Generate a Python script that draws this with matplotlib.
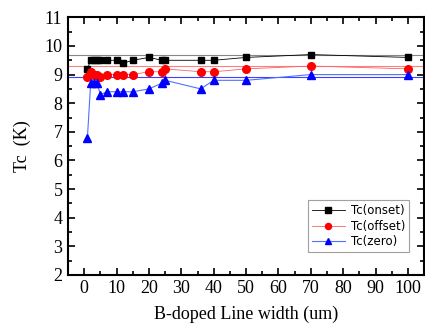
import matplotlib
matplotlib.use("Agg")
import matplotlib.pyplot as plt
from matplotlib.ticker import MultipleLocator

# line width (um)
width = [1, 2, 3, 4, 5, 7, 10, 12, 15, 20, 24, 25, 36, 40, 50, 70, 100]
tc_onset = [9.2, 9.5, 9.5, 9.5, 9.5, 9.5, 9.5, 9.4, 9.5, 9.6, 9.5, 9.5, 9.5, 9.5, 9.6, 9.7, 9.6]
tc_offset = [8.9, 9.1, 9.0, 9.0, 8.9, 9.0, 9.0, 9.0, 9.0, 9.1, 9.1, 9.2, 9.1, 9.1, 9.2, 9.3, 9.2]
tc_zero = [6.8, 8.7, 8.7, 8.7, 8.3, 8.4, 8.4, 8.4, 8.4, 8.5, 8.7, 8.8, 8.5, 8.8, 8.8, 9.0, 9.0]
# reference levels (horizontal lines)
ref_onset = 9.7
ref_offset = 9.3
ref_zero = 8.9

fig = plt.figure(figsize=(4.25, 3.34), dpi=100)
ax = fig.add_axes([0.16, 0.177, 0.838, 0.771])

ax.axhline(ref_onset, color='#888888', lw=0.8, zorder=1)
ax.axhline(ref_offset, color='#ff8080', lw=0.8, zorder=1)
ax.axhline(ref_zero, color='#4040ff', lw=0.8, zorder=1)

ax.plot(width, tc_onset, color='k', lw=0.6, marker='s', ms=5, label='Tc(onset)', zorder=3)
ax.plot(width, tc_offset, color='#ff6060', lw=0.6, marker='o', mfc='red', mec='red', ms=5.5,
        label='Tc(offset)', zorder=3)
ax.plot(width, tc_zero, color='#5070ff', lw=0.8, marker='^', mfc='blue', mec='blue', ms=6,
        label='Tc(zero)', zorder=3)

ax.set_xlim(-5, 105)
ax.set_ylim(2, 11)
ax.xaxis.set_major_locator(MultipleLocator(10))
ax.xaxis.set_minor_locator(MultipleLocator(5))
ax.yaxis.set_major_locator(MultipleLocator(1))
ax.yaxis.set_minor_locator(MultipleLocator(0.5))
ax.tick_params(which='both', direction='in', top=True, right=True, width=1.2)
ax.tick_params(which='major', length=5, labelsize=13, pad=4)
ax.tick_params(which='minor', length=3)
for s in ax.spines.values():
    s.set_linewidth(1.5)
for lab in ax.get_xticklabels() + ax.get_yticklabels():
    lab.set_family('Liberation Serif')

ax.set_xlabel('B-doped Line width (um)', family='Liberation Serif', fontsize=13, labelpad=6)
ax.set_ylabel('Tc  (K)', family='Liberation Serif', fontsize=13, labelpad=10)

leg = ax.legend(loc='lower right', bbox_to_anchor=(0.975, 0.065), fontsize=8.5, frameon=True,
                fancybox=False, edgecolor='#888888', handlelength=2.8, borderpad=0.35,
                labelspacing=0.2, handletextpad=0.5, markerscale=0.8)
leg.get_frame().set_linewidth(0.8)

fig.savefig('out.png', dpi=100)
